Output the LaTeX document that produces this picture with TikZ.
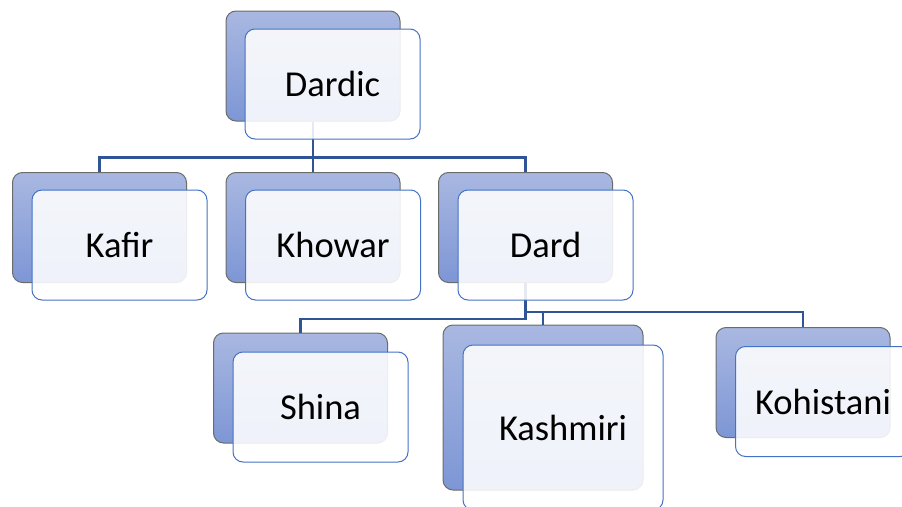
\documentclass[tikz,border=0pt]{standalone}
\usepackage{fontspec}
\setmainfont{Carlito}
\usetikzlibrary{positioning}
\definecolor{linkblue}{HTML}{2F5597}
\definecolor{edgeblue}{HTML}{4472C4}
\definecolor{backtop}{HTML}{A9B8E1}
\definecolor{backbot}{HTML}{7D96D5}
\definecolor{backedge}{HTML}{6B6B6B}

\begin{document}
\begin{tikzpicture}[x=1pt,y=-1pt,
	backbox/.style={draw=backedge,line width=1pt,rounded corners=10pt,top color=backtop,bottom color=backbot,minimum width=174pt,minimum height=110pt,inner sep=0pt},
	frontbox/.style={draw=edgeblue,line width=1pt,rounded corners=10pt,fill=white,fill opacity=0.88,text opacity=1,minimum width=175pt,minimum height=110pt,inner sep=0pt,font=\fontsize{36.5}{42}\selectfont},
	link/.style={draw=linkblue,line width=2.3pt}]
	\useasboundingbox (0,0) rectangle (902,506);
	\clip (0,0) rectangle (902,506);
	% back boxes
	\node[backbox] (dardicb) at (313,66) {};
	\node[backbox] (kafirb) at (99.5,227.5) {};
	\node[backbox] (khowarb) at (313,227.5) {};
	\node[backbox] (dardb) at (525.5,227.5) {};
	\node[backbox] (shinab) at (300.5,388) {};
	\node[backbox,minimum width=200pt,minimum height=165pt] (kashb) at (543,407.5) {};
	\node[backbox] (kohb) at (803,382.5) {};
	% connectors
	\draw[link] (dardicb.south) -- ++(0,36) coordinate (busA);
	\draw[link] (busA) -| (kafirb.north);
	\draw[link] (busA) -- (khowarb.north);
	\draw[link] (busA) -| (dardb.north);
	\draw[link] (dardb.south) -- ++(0,36) -| (shinab.north);
	\path (dardb.south) ++(0,29) coordinate (busB);
	\draw[link] (busB) -| (kashb.north);
	\draw[link] (busB) -| (kohb.north);
	% front boxes
	\node[frontbox] (dardic) at ([shift={(19.5,18)}]dardicb.center) {Dardic};
	\node[frontbox] (kafir) at ([shift={(20,17.5)}]kafirb.center) {Kafir};
	\node[frontbox] (khowar) at ([shift={(20,17.5)}]khowarb.center) {Khowar};
	\node[frontbox] (dard) at ([shift={(20,17.5)}]dardb.center) {Dard};
	\node[frontbox] (shina) at ([shift={(20,19)}]shinab.center) {Shina};
	\node[frontbox,minimum width=200pt,minimum height=165pt] (kashmiri) at ([shift={(20,20)}]kashb.center) {Kashmiri};
	\node[frontbox] (kohistani) at ([shift={(20,19)}]kohb.center) {Kohistani};
\end{tikzpicture}
\end{document}
